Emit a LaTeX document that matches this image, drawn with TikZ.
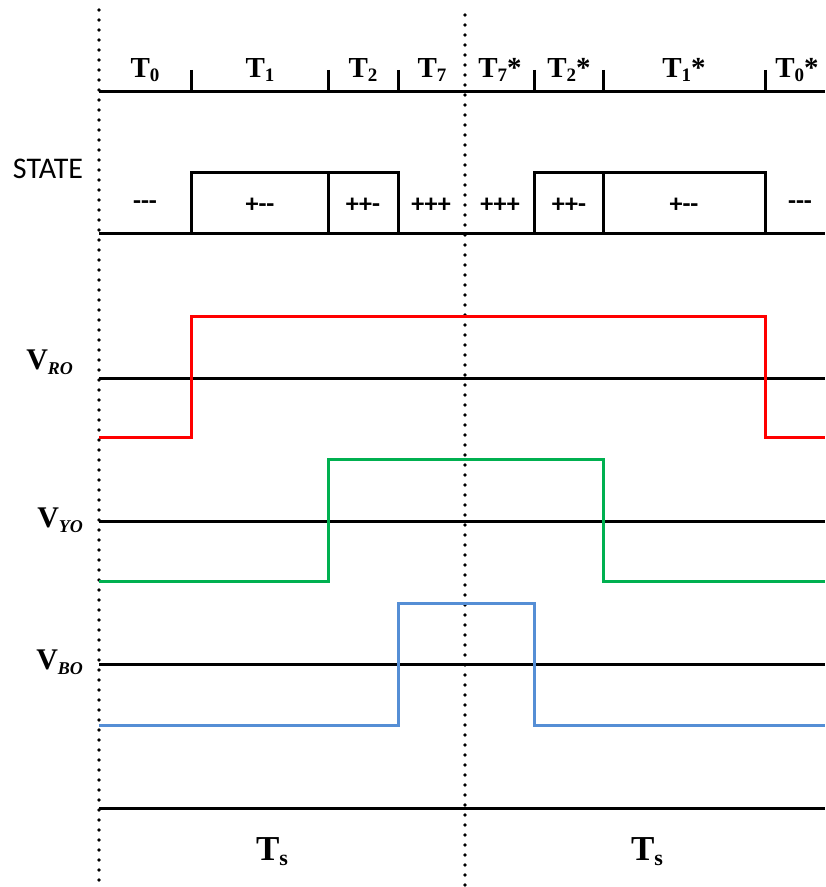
\documentclass[tikz,border=0pt]{standalone}
\usepackage{fontspec}
\setmainfont{Liberation Serif}
\newfontfamily\calfont{Carlito}
\usepackage{tikz}
\usetikzlibrary{positioning}
\usepackage{xcolor}
\definecolor{phR}{HTML}{FF0000}
\definecolor{phY}{HTML}{00B050}
\definecolor{phB}{HTML}{558ED5}
\newcommand{\tlab}[2]{\textbf{T\raisebox{-0.3ex}{\fontsize{9.5}{9.5}\selectfont #1}#2}}
\newcommand{\vlab}[1]{\textbf{V\raisebox{-0.35ex}{\fontsize{9}{9}\selectfont\itshape #1}}}
\newcommand{\mn}{-\kern0pt}

\begin{document}
\begin{tikzpicture}[x=0.5pt,y=-0.5pt,
  axis/.style={line width=1.5pt},
  dots/.style={line width=1.8pt,dash pattern=on 0pt off 5pt,line cap=round},
  wave/.style={line width=1.5pt},
  tnode/.style={font=\fontsize{14.5}{14.5}\selectfont},
  snode/.style={font=\calfont\bfseries\fontsize{13}{13}\selectfont},
  vnode/.style={font=\fontsize{15}{15}\selectfont,anchor=east}]
  \useasboundingbox (0,0) rectangle (825,887);
  % sector boundaries
  \draw[dots] (99,10) -- (99,887);
  \draw[dots] (465,15) -- (465,887);
  % time intervals
  \draw[axis] (99,92) -- (825,92);
  \foreach \x in {191,328,398,534,603,765}
    \draw[axis] (\x,70) -- (\x,92);
  \node[tnode] (lT0) at (145,70) {\tlab{0}{}};
  \node[tnode] (lT1) at (260,70) {\tlab{1}{}};
  \node[tnode] (lT2) at (363,70) {\tlab{2}{}};
  \node[tnode] (lT7) at (432,70) {\tlab{7}{}};
  \node[tnode] (lT7s) at (500,70) {\tlab{7}{*}};
  \node[tnode] (lT2s) at (569,70) {\tlab{2}{*}};
  \node[tnode] (lT1s) at (684,70) {\tlab{1}{*}};
  \node[tnode] (lT0s) at (797,70) {\tlab{0}{*}};
  % switching states
  \node[font=\calfont\fontsize{15}{15}\selectfont] (state) at (48,169) {STATE};
  \draw[axis] (99,234) -- (825,234);
  \draw[axis] (191,234) -- (191,173) -- (398,173) -- (398,234);
  \draw[axis] (328,173) -- (328,234);
  \draw[axis] (534,234) -- (534,173) -- (765,173) -- (765,234);
  \draw[axis] (603,173) -- (603,234);
  \node[snode] (s0) at (145,205) {\mn\mn-};
  \node[snode] (s1) at (260,205) {+\mn-};
  \node[snode] (s2) at (363,205) {++-};
  \node[snode] (s7) at (431,205) {+++};
  \node[snode] (s7s) at (500,205) {+++};
  \node[snode] (s2s) at (569,205) {++-};
  \node[snode] (s1s) at (684,205) {+\mn-};
  \node[snode] (s0s) at (800,205) {\mn\mn-};
  % phase voltages
  \node[vnode] (vro) at (80,362) {\vlab{RO}};
  \node[vnode] (vyo) at (90,520) {\vlab{YO}};
  \node[vnode] (vbo) at (90,662) {\vlab{BO}};
  \draw[axis] (99,378) -- (825,378);
  \draw[axis] (99,521) -- (825,521);
  \draw[axis] (99,664) -- (825,664);
  \draw[axis] (99,808) -- (825,808);
  \draw[wave,phR] (99,437) -- (191,437) -- (191,316) -- (765,316) -- (765,437) -- (825,437);
  \draw[wave,phY] (99,581) -- (328,581) -- (328,459) -- (603,459) -- (603,581) -- (825,581);
  \draw[wave,phB] (99,725) -- (398,725) -- (398,603) -- (534,603) -- (534,725) -- (825,725);
  % sampling periods
  \node[font=\fontsize{17.5}{17.5}\selectfont] (ts1) at (272,852) {\textbf{T\raisebox{-0.3ex}{\fontsize{11}{11}\selectfont s}}};
  \node[font=\fontsize{17.5}{17.5}\selectfont] (ts2) at (647,852) {\textbf{T\raisebox{-0.3ex}{\fontsize{11}{11}\selectfont s}}};
\end{tikzpicture}
\end{document}
